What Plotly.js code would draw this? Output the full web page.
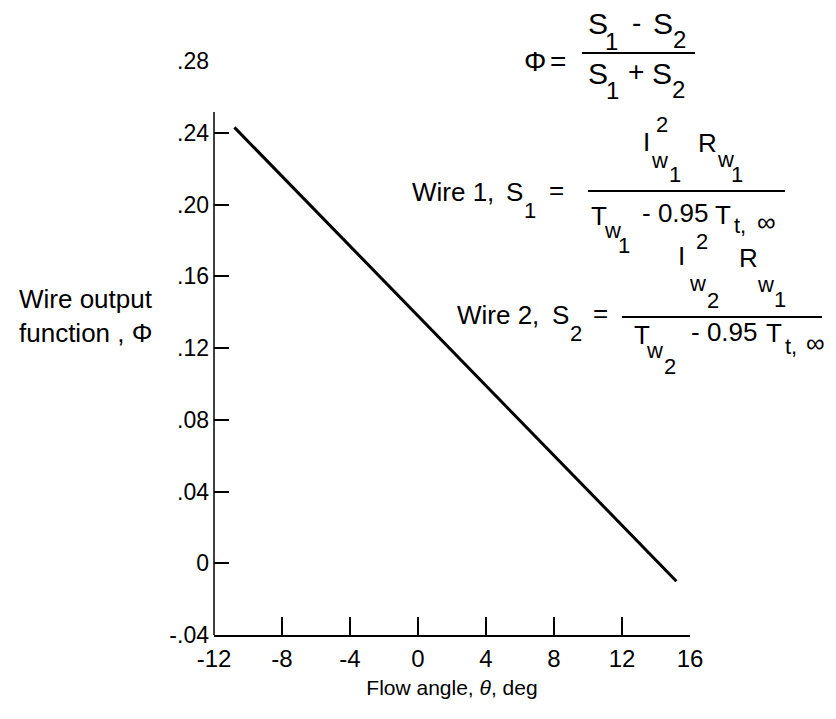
<!DOCTYPE html>
<html>
<head>
<meta charset="utf-8">
<script src="https://cdn.plot.ly/plotly-3.0.1.min.js"></script>
<style>html,body{margin:0;padding:0;background:#fff;}#chart{width:836px;height:719px;}</style>
</head>
<body>
<div id="chart"></div>
<script>
// ---- data ----
const flowAngle = [-10.8, 15.2];
const wireOutput = [0.243, -0.010];
const xTickVals = [-12, -8, -4, 0, 4, 8, 12, 16];
const xTickText = ['-12', '-8', '-4', '0', '4', '8', '12', '16'];
const yTickVals = [-0.04, 0, 0.04, 0.08, 0.12, 0.16, 0.20, 0.24, 0.28];
const yTickText = ['-.04', '0', '.04', '.08', '.12', '.16', '.20', '.24', '.28'];

// ---- layout geometry (pixels) ----
const W = 836, H = 719;
const L = 214, R = 690, T = 61, B = 635;
const px = x => (x - L) / (R - L);
const py = y => (B - y) / (B - T);

const REG = 'Liberation Sans, Arial, sans-serif';

// formula tokens: [text, xCenter, yCenter, size, anchor]
const tokens = [
  ['Φ', 535, 62, 28], ['=', 558, 62, 28],
  ['S', 598, 24, 30], ['1', 611, 41, 24], ['-', 636, 22, 28], ['S', 663, 24, 30], ['2', 679, 39, 24],
  ['S', 598, 73, 30], ['1', 612, 90, 24], ['+', 636, 72, 28], ['S', 662, 73, 30], ['2', 678, 89, 24],

  ['Wire 1,', 410, 192, 26, 'left'], ['S', 514, 192, 26], ['1', 530, 210, 22], ['=', 556, 190, 26],
  ['I', 646, 142, 26], ['2', 662, 124, 22], ['w', 659, 160, 22], ['1', 675, 174, 22],
  ['R', 707, 143, 26], ['w', 725, 159, 22], ['1', 737, 174, 22],
  ['T', 599, 216, 26], ['w', 612, 230, 22], ['1', 624, 245, 22],
  ['- 0.95', 675, 213, 26], ['T', 723, 215, 26], ['t,', 740, 226, 22], ['∞', 766, 222, 26],

  ['Wire 2,', 455, 315, 26, 'left'], ['S', 560, 315, 26], ['2', 576, 333, 22], ['=', 600, 313, 26],
  ['I', 681, 256, 26], ['2', 702, 241, 22], ['w', 697, 283, 22], ['2', 713, 300, 22],
  ['R', 748, 258, 26], ['w', 765, 284, 22], ['1', 780, 299, 22],
  ['T', 642, 335, 26], ['w', 654, 350, 22], ['2', 670, 366, 22],
  ['- 0.95', 724, 332, 26], ['T', 774, 333, 26], ['t,', 791, 346, 22], ['∞', 815, 343, 26]
];
const bars = [[582, 695, 53], [588, 785, 191], [622, 822, 317]];

const annotations = tokens.map(t => ({
  text: t[0], xref: 'paper', yref: 'paper',
  x: px(t[1]), y: py(t[2]),
  xanchor: t[4] || 'center', yanchor: 'middle',
  showarrow: false, font: {family: REG, size: t[3], color: '#000'}
}));
annotations.push({
  text: 'Wire output<br>function , Φ', xref: 'paper', yref: 'paper',
  x: px(17), y: py(316), xanchor: 'left', yanchor: 'middle', align: 'left',
  showarrow: false, font: {family: REG, size: 26, color: '#000'}
});

const shapes = bars.map(b => ({
  type: 'line', xref: 'paper', yref: 'paper',
  x0: px(b[0]), x1: px(b[1]), y0: py(b[2]), y1: py(b[2]),
  line: {color: '#000', width: 2}
}));
// left axis line (stops short of the top tick)
shapes.push({type: 'line', xref: 'paper', yref: 'paper', x0: 0, x1: 0, y0: 0, y1: py(112),
  line: {color: '#000', width: 1.5}});

const trace = {
  x: flowAngle, y: wireOutput, type: 'scatter', mode: 'lines',
  line: {color: '#000', width: 3}, hoverinfo: 'skip'
};

const layout = {
  width: W, height: H,
  margin: {l: L, r: W - R, t: T, b: H - B, pad: 0},
  paper_bgcolor: '#fff', plot_bgcolor: '#fff',
  showlegend: false,
  xaxis: {
    range: [-12, 16], tickmode: 'array', tickvals: xTickVals, ticktext: xTickText,
    ticks: 'inside', ticklen: 18, tickwidth: 2, tickcolor: '#000',
    showline: true, linewidth: 2, linecolor: '#000', mirror: false,
    showgrid: false, zeroline: false, fixedrange: true,
    tickfont: {family: REG, size: 24, color: '#000'}, ticklabelstandoff: 1,
    title: {text: 'Flow angle, <i>θ</i>, deg', font: {family: REG, size: 21, color: '#000'}, standoff: 10}
  },
  yaxis: {
    range: [-0.04, 0.28], tickmode: 'array', tickvals: yTickVals, ticktext: yTickText,
    ticks: 'inside', ticklen: 15, tickwidth: 2, tickcolor: '#000',
    showline: false, showgrid: false, zeroline: false, fixedrange: true,
    tickfont: {family: REG, size: 23, color: '#000'}, ticklabelstandoff: 4
  },
  annotations: annotations,
  shapes: shapes
};

Plotly.newPlot('chart', [trace], layout, {staticPlot: true, displayModeBar: false});
</script>
</body>
</html>
